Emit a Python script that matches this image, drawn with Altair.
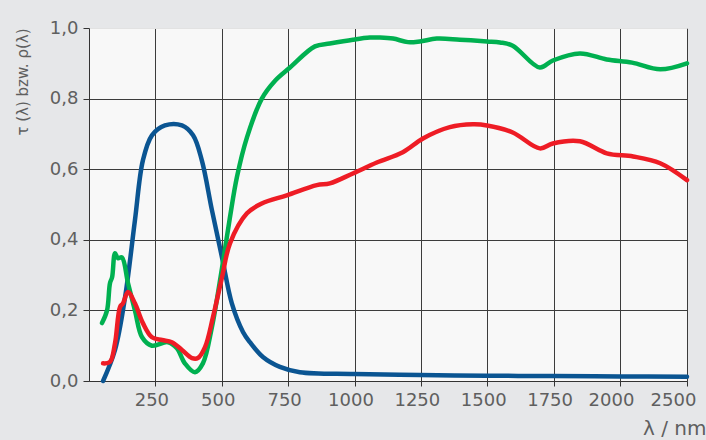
import altair as alt
import pandas as pd

# Spectral curves: wavelength in nm, value as fraction
wl_blue = [53, 98, 136, 173, 203, 237, 286, 350, 392, 425, 463, 501, 538, 580, 606,
           655, 719, 794, 998, 1246, 1498, 1747, 2000, 2500]
val_blue = [0.0, 0.088, 0.238, 0.455, 0.625, 0.696, 0.724, 0.724, 0.696, 0.625, 0.484,
            0.35, 0.22, 0.139, 0.11, 0.068, 0.04, 0.025, 0.02, 0.017, 0.015, 0.014,
            0.013, 0.012]

wl_green = [49, 68, 79, 87, 98, 109, 124, 147, 173, 200, 237, 297, 331, 361, 399, 429,
            463, 501, 531, 557, 595, 651, 700, 757, 851, 907, 994, 1058, 1096, 1145,
            1201, 1246, 1310, 1397, 1499, 1548, 1596, 1698, 1747, 1849, 1950, 2090,
            2300, 2500]
val_green = [0.164, 0.20, 0.277, 0.294, 0.362, 0.348, 0.35, 0.277, 0.20, 0.124, 0.10,
             0.11, 0.093, 0.05, 0.025, 0.05, 0.153, 0.32, 0.464, 0.577, 0.69, 0.80,
             0.85, 0.888, 0.948, 0.956, 0.967, 0.973, 0.973, 0.97, 0.96, 0.962, 0.970,
             0.967, 0.962, 0.959, 0.95, 0.888, 0.908, 0.928, 0.911, 0.902, 0.883, 0.90]

wl_red = [53, 79, 98, 117, 128, 147, 173, 203, 237, 275, 312, 350, 388, 410, 437, 467,
          501, 531, 595, 651, 745, 858, 907, 994, 1084, 1182, 1258, 1359, 1446, 1499,
          1596, 1698, 1747, 1849, 1950, 2098, 2300, 2500]
val_red = [0.05, 0.054, 0.107, 0.21, 0.22, 0.252, 0.22, 0.164, 0.124, 0.116, 0.11,
           0.088, 0.065, 0.065, 0.096, 0.181, 0.294, 0.39, 0.475, 0.503, 0.526, 0.555,
           0.56, 0.588, 0.619, 0.648, 0.687, 0.719, 0.727, 0.724, 0.704, 0.659, 0.673,
           0.679, 0.645, 0.636, 0.617, 0.569]

x_ticks = [250, 500, 750, 1000, 1250, 1500, 1750, 2000, 2500]
y_ticks = [0.0, 0.2, 0.4, 0.6, 0.8, 1.0]

series_names = ["Reihe 1", "Reihe 2", "Reihe 3"]
series_colors = ["#0b5592", "#00b050", "#ee1c25"]

frames = []
for i, (name, wl, val) in enumerate(zip(series_names,
                                        [wl_blue, wl_green, wl_red],
                                        [val_blue, val_green, val_red])):
    frames.append(pd.DataFrame({"wl": wl, "val": val, "series": name, "order": i}))
df = pd.concat(frames, ignore_index=True)

W, H = 598, 353
FONT = "DejaVu Sans"
TXT = "#5f5f5f"
GRID = "#3c3c3c"

x_axis = alt.Axis(
    values=x_ticks, format="d", labelOverlap=False, labelFlush=False,
    labelBound=False, title="λ / nm",
    labelOffset={"condition": [
        {"test": "datum.value >= 2500", "value": -14},
        {"test": "datum.value >= 2000", "value": -9},
    ], "value": -4},
    grid=True, gridColor=GRID, gridWidth=1,
    domainColor="#333333", tickColor="#333333", tickSize=5,
    labelFont=FONT, labelFontSize=18, labelColor=TXT, labelPadding=5,
    titleFont=FONT, titleFontSize=20, titleColor=TXT, titleFontWeight="normal",
    titleAnchor="end", titleAlign="right", titleX=W + 19, titleY=47,
    titleBaseline="middle",
)
y_axis = alt.Axis(
    values=y_ticks, title="τ (λ) bzw. ρ(λ)", grid=True, labelOverlap=False,
    labelFlush=False,
    gridColor={"condition": {"test": "datum.value >= 1", "value": "#e2e2e2"},
               "value": GRID},
    gridWidth=1, domainColor="#333333", tickColor="#333333", tickSize=6,
    labelExpr="replace(format(datum.value, '.1f'), '.', ',')",
    labelFont=FONT, labelFontSize=18, labelColor=TXT, labelPadding=5,
    titleFont=FONT, titleFontSize=15, titleColor=TXT, titleFontWeight="normal",
    titleAnchor="end", titleAlign="right", titleAngle=-90, titleX=-67, titleY=0,
    titleBaseline="middle",
)

chart = alt.Chart(df).mark_line(
    strokeWidth=4.5, interpolate="catmull-rom", strokeJoin="round", strokeCap="round"
).encode(
    x=alt.X("wl:Q", axis=x_axis,
            scale=alt.Scale(domain=[0, 2000, 2500], range=[0, 531, W],
                            nice=False, zero=False)),
    y=alt.Y("val:Q", axis=y_axis, scale=alt.Scale(domain=[0, 1], nice=False)),
    color=alt.Color("series:N", legend=None,
                    scale=alt.Scale(domain=series_names, range=series_colors)),
    order=alt.Order("order:Q"),
    detail="series:N",
).properties(
    width=W, height=H,
    background="#e6e7e9",
    padding={"left": 89, "top": 28, "right": 19, "bottom": 59},
    autosize=alt.AutoSizeParams(type="none"),
).configure_view(
    fill="#f8f8f8", stroke=None,
)

chart.save("out.html", embed_options={"renderer": "svg", "actions": False})
